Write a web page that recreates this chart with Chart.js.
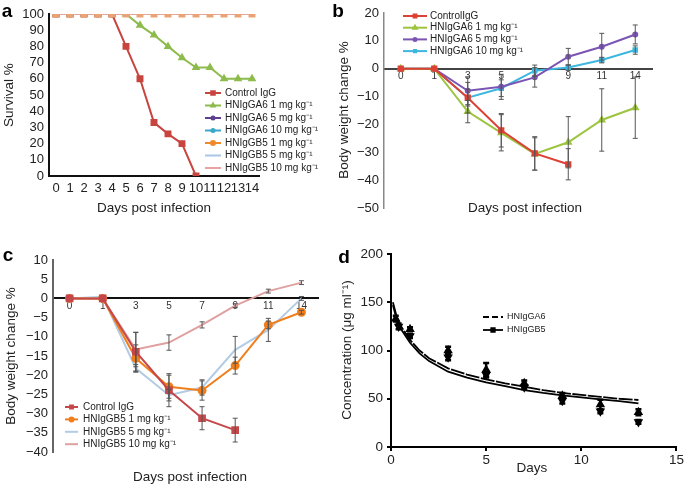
<!DOCTYPE html>
<html lang="en">
<head>
  <meta charset="UTF-8" />
  <title>Survival, body weight and serum concentration</title>
  <script src="https://cdn.jsdelivr.net/npm/chart.js"></script>
  <style>
    body { margin: 0; background: #fff; font-family: 'Liberation Sans', Arial, sans-serif; color: #222; }
    .figure { position: relative; width: 685px; height: 485px; overflow: hidden; }
    .figure canvas { position: absolute; }
    .lbl { position: absolute; white-space: nowrap; line-height: 1; transform: translate(-50%, -50%); }
    .tag { font-weight: bold; font-size: 19px; color: #000; }
    .xt { font-size: 13.5px; }
    .yt { font-size: 13.5px; transform: translate(-50%, -50%) rotate(-90deg); }
  </style>
</head>
<body>
  <div class="figure">
    <canvas id="chartA" width="340" height="240" style="left:0;top:0"></canvas>
    <canvas id="chartB" width="345" height="240" style="left:340px;top:0"></canvas>
    <canvas id="chartC" width="340" height="245" style="left:0;top:240px"></canvas>
    <canvas id="chartD" width="345" height="245" style="left:340px;top:240px"></canvas>

    <!-- panel letters and axis titles -->
    <div class="lbl tag" style="left:7px;top:10px">a</div>
    <div class="lbl tag" style="left:338px;top:10px">b</div>
    <div class="lbl tag" style="left:8px;top:254px">c</div>
    <div class="lbl tag" style="left:344px;top:256px">d</div>

    <div class="lbl yt" style="left:9px;top:95px">Survival %</div>
    <div class="lbl xt" style="left:154px;top:208px">Days post infection</div>
    <div class="lbl yt" style="left:344px;top:110px">Body weight change %</div>
    <div class="lbl xt" style="left:525px;top:208px">Days post infection</div>
    <div class="lbl yt" style="left:11px;top:356px">Body weight change %</div>
    <div class="lbl xt" style="left:190px;top:477px">Days post infection</div>
    <div class="lbl yt" style="left:347px;top:350px">Concentration (μg ml⁻¹)</div>
    <div class="lbl xt" style="left:532px;top:468px">Days</div>
  </div>

  <script>
    // ---- a: survival ----
    const survDays = ['0','1','2','3','4','5','6','7','8','9','10','11','12','13','14'];
    const survCtrl = [100,100,100,100,100,80,60,33,26,20,0,null,null,null,null];
    const survGA6_1 = [100,100,100,100,100,100,93,87,80,73,67,67,60,60,60];
    const survAll100 = [100,100,100,100,100,100,100,100,100,100,100,100,100,100,100];

    // ---- b: body weight, HNIgGA6 ----
    const bwDays = ['0','1','3','5','7','9','11','14'];
    const bCtrl = [0,0,-10.4,-22.1,-30.4,-34.3,null,null];
    const bCtrlErr = [0,0,5.5,6,6,5.6,0,0];
    const bGA6_1 = [0,0,-15.4,-23,-30.6,-26.4,-18.4,-14];
    const bGA6_1Err = [0,0,4,6.5,5.8,9.2,11.2,11];
    const bGA6_5 = [0,0,-7.9,-6.5,-3.1,4.3,7.9,12.3];
    const bGA6_5Err = [0,0,5,4.5,3.5,3,4.8,3.4];
    const bGA6_10 = [0,0,-10.4,-7,-0.7,0.4,3.1,6.7];
    const bGA6_10Err = [0,0,3,3,2,1,1,1.5];

    // ---- c: body weight, HNIgGB5 ----
    const cCtrl = [0,0,-13.9,-23.9,-31.2,-34.3,null,null];
    const cCtrlErr = [0,0,5,4.3,3,3.1,0,0];
    const cGB5_1 = [0,0,-15.6,-23,-24,-17.5,-6.9,-3.6];
    const cGB5_1Err = [0,0,3.5,3,2.5,2.2,1,0.5];
    const cGB5_5 = [0,0.4,-18.2,-25.2,-23.2,-13.4,-8.2,0];
    const cGB5_5Err = [0,0,1,1.5,2,3.5,3,0.5];
    const cGB5_10 = [0,0,-13.3,-11.5,-6.9,-1.9,1.9,4.1];
    const cGB5_10Err = [0,0,4.5,2,0.8,0.5,0.5,0.5];

    // ---- d: serum concentration ----
    const fitDays = [0.1,0.3,0.5,1,1.5,2,3,4,5,6,7,8,9,10,11,12,13];
    const fitGA6 = [150,135,126,111,100,92,81.5,75,70,66,62.5,59,56,54,52,50,48.7];
    const fitGB5 = [147,132,123,108,97,89,78,72,67,63,59,56,53.5,51.5,49.4,47.5,45.3];
    const obsDaysGA6 = [0.25,1,3,5,7,9,11,13];
    const obsGA6 = [133,122,100,80,66,53,44,36];
    const obsGA6Err = [3,2,4,7,3,3,5,3];
    const obsDaysGB5 = [0.4,1,3,5,7,9,11,13];
    const obsGB5 = [125,115,93,75,62,48,37,26];
    const obsGB5Err = [3,2,3,3,2,3,2,2];

    const FONT = "'Liberation Sans', Arial, sans-serif";
    const minus = v => String(v).replace('-', '\u2212');

    // vertical error bars, drawn with the chart's own y scale
    const errorBars = {
      id: 'errorBars',
      afterDatasetsDraw(chart) {
        const ctx = chart.ctx;
        const yScale = chart.scales.y;
        chart.data.datasets.forEach((ds, i) => {
          if (!ds.errors) return;
          const meta = chart.getDatasetMeta(i);
          const cap = ds.errorCap || 2.5;
          ctx.save();
          ctx.strokeStyle = ds.errorColor || '#555';
          ctx.lineWidth = ds.errorWidth || 1;
          meta.data.forEach((pt, j) => {
            const raw = ds.data[j];
            const v = (raw && typeof raw === 'object') ? raw.y : raw;
            const e = ds.errors[j];
            if (v == null || !e) return;
            const top = yScale.getPixelForValue(v + e);
            const bot = yScale.getPixelForValue(v - e);
            ctx.beginPath();
            ctx.moveTo(pt.x, top); ctx.lineTo(pt.x, bot);
            ctx.moveTo(pt.x - cap, top); ctx.lineTo(pt.x + cap, top);
            ctx.moveTo(pt.x - cap, bot); ctx.lineTo(pt.x + cap, bot);
            ctx.stroke();
          });
          ctx.restore();
        });
      }
    };

    // legend drawn inside the plot area
    const keyBox = {
      id: 'keyBox',
      afterDraw(chart, args, opts) {
        if (!opts || opts.x == null) return;
        const ctx = chart.ctx;
        let row = 0;
        chart.data.datasets.forEach(ds => {
          if (ds.inKey === false) return;
          const y = opts.y + row * opts.row;
          const x0 = opts.x, x1 = opts.x + opts.len;
          ctx.save();
          ctx.strokeStyle = ds.borderColor;
          ctx.lineWidth = ds.borderWidth;
          ctx.setLineDash(ds.keyDash || ds.borderDash || []);
          ctx.beginPath(); ctx.moveTo(x0, y); ctx.lineTo(x1, y); ctx.stroke();
          ctx.setLineDash([]);
          if (ds.keyRadius) {
            ctx.fillStyle = ds.pointBackgroundColor || ds.borderColor;
            ctx.strokeStyle = ds.pointBorderColor || ds.borderColor;
            Chart.helpers.drawPoint(ctx, { pointStyle: ds.pointStyle, radius: ds.keyRadius, borderWidth: 1, rotation: 0 }, (x0 + x1) / 2, y);
          }
          ctx.fillStyle = '#222';
          ctx.font = opts.font;
          ctx.textBaseline = 'middle';
          ctx.textAlign = 'left';
          ctx.fillText(ds.label, x1 + opts.gap, y);
          ctx.restore();
          row++;
        });
      }
    };
    Chart.register(errorBars, keyBox);

    function line(label, data, color, extra) {
      return Object.assign({
        label, data,
        borderColor: color,
        backgroundColor: color,
        pointBackgroundColor: color,
        pointBorderColor: color,
        borderWidth: 2,
        pointRadius: 0,
        keyRadius: 0,
        tension: 0,
        spanGaps: false
      }, extra || {});
    }

    function baseOptions(p) {
      return {
        responsive: false,
        animation: false,
        layout: { padding: { left: 0, top: p.top, right: p.right, bottom: p.bottom || 0 } },
        plugins: { legend: { display: false }, tooltip: { enabled: false }, keyBox: p.key },
        scales: {
          x: Object.assign({
            afterFit: s => { s.height = p.xh; }
          }, p.x),
          y: Object.assign({
            afterFit: s => { s.width = p.yw; }
          }, p.y)
        }
      };
    }

    // ---- panel a ----
    new Chart(document.getElementById('chartA'), {
      type: 'line',
      data: {
        labels: survDays,
        datasets: [
          line('Control IgG', survCtrl, '#C8443F', { pointRadius: 3.5, keyRadius: 2.5, pointStyle: 'rect', order: 1 }),
          line('HNIgGA6 1 mg kg⁻¹', survGA6_1, '#8DBB4C', { pointRadius: 3, keyRadius: 2, pointStyle: 'triangle', order: 1 }),
          line('HNIgGA6 5 mg kg⁻¹', survAll100, '#5E3F8F', { keyRadius: 1.5, pointStyle: 'circle', order: 1 }),
          line('HNIgGA6 10 mg kg⁻¹', survAll100, '#3BA7C9', { keyRadius: 1.5, pointStyle: 'circle', order: 1 }),
          line('HNIgGB5 1 mg kg⁻¹', survAll100, '#EE8A2C', { keyRadius: 2, pointStyle: 'circle', order: 1 }),
          line('HNIgGB5 5 mg kg⁻¹', survAll100, '#A9C6E6', { order: 1 }),
          line('HNIgGB5 10 mg kg⁻¹', survAll100, '#E7A3A0', {
            pointRadius: 3.5, pointStyle: 'rect', pointBackgroundColor: '#E9A476', pointBorderColor: '#E9A476', order: 0
          })
        ]
      },
      options: baseOptions({
        top: 14, right: 81, xh: 64, yw: 49,
        key: { x: 205, y: 93, row: 12.5, len: 16, gap: 4, font: '10px ' + FONT },
        x: {
          offset: true,
          grid: { display: false, drawTicks: false },
          border: { display: true, color: '#111', width: 2 },
          ticks: { color: '#222', padding: 5, maxRotation: 0, autoSkip: false, font: { family: FONT, size: 13 } }
        },
        y: {
          min: 0, max: 100,
          grid: { display: false, drawTicks: false },
          border: { display: true, color: '#111', width: 2 },
          ticks: { stepSize: 10, autoSkip: false, color: '#222', padding: 5, font: { family: FONT, size: 13 } }
        }
      })
    });

    // ---- panel b ----
    new Chart(document.getElementById('chartB'), {
      type: 'line',
      data: {
        labels: bwDays,
        datasets: [
          line('ControlIgG', bCtrl, '#DD4035', { pointRadius: 3, keyRadius: 2, pointStyle: 'rect', errors: bCtrlErr }),
          line('HNIgGA6 1 mg kg⁻¹', bGA6_1, '#9CC43E', { pointRadius: 3, keyRadius: 2, pointStyle: 'triangle', errors: bGA6_1Err }),
          line('HNIgGA6 5 mg kg⁻¹', bGA6_5, '#7B55B3', { pointRadius: 2, keyRadius: 1.5, pointStyle: 'circle', errors: bGA6_5Err }),
          line('HNIgGA6 10 mg kg⁻¹', bGA6_10, '#3DB7E0', { pointRadius: 2.5, keyRadius: 1.5, pointStyle: 'rect', errors: bGA6_10Err })
        ]
      },
      options: baseOptions({
        top: 13, right: 33, bottom: 32, xh: 0, yw: 44,
        key: { x: 63, y: 16, row: 11.7, len: 24, gap: 3, font: '10px ' + FONT },
        x: {
          position: { y: 0 },
          offset: true,
          grid: { display: false, drawTicks: false },
          border: { display: true, color: '#444', width: 2 },
          ticks: { color: '#333', padding: 2, maxRotation: 0, autoSkip: false, font: { family: FONT, size: 10 } }
        },
        y: {
          min: -50, max: 20,
          grid: { display: false, drawTicks: false },
          border: { display: true, color: '#888', width: 1.5 },
          ticks: { stepSize: 10, autoSkip: false, color: '#222', padding: 5, font: { family: FONT, size: 13 }, callback: minus }
        }
      })
    });

    // ---- panel c ----
    new Chart(document.getElementById('chartC'), {
      type: 'line',
      data: {
        labels: bwDays,
        datasets: [
          line('Control IgG', cCtrl, '#C4474A', { pointRadius: 4, keyRadius: 2, pointStyle: 'rect', errors: cCtrlErr }),
          line('HNIgGB5 1 mg kg⁻¹', cGB5_1, '#F07E1C', { pointRadius: 3.5, keyRadius: 2, pointStyle: 'circle', errors: cGB5_1Err }),
          line('HNIgGB5 5 mg kg⁻¹', cGB5_5, '#B3CCE4', { errors: cGB5_5Err }),
          line('HNIgGB5 10 mg kg⁻¹', cGB5_10, '#E0A0A0', { errors: cGB5_10Err })
        ]
      },
      options: baseOptions({
        top: 20, right: 22, bottom: 33, xh: 0, yw: 53,
        key: { x: 65, y: 167, row: 12.4, len: 13, gap: 5, font: '10px ' + FONT },
        x: {
          position: { y: 0 },
          offset: true,
          grid: { display: false, drawTicks: false },
          border: { display: true, color: '#111', width: 2 },
          ticks: { color: '#333', padding: 2, maxRotation: 0, autoSkip: false, font: { family: FONT, size: 10 } }
        },
        y: {
          min: -40, max: 10,
          grid: { display: false, drawTicks: false },
          border: { display: true, color: '#666', width: 2 },
          ticks: { stepSize: 5, autoSkip: false, color: '#222', padding: 5, font: { family: FONT, size: 13 }, callback: minus }
        }
      })
    });

    // ---- panel d ----
    const toXY = (xs, ys) => xs.map((x, i) => ({ x, y: ys[i] }));
    new Chart(document.getElementById('chartD'), {
      type: 'scatter',
      data: {
        datasets: [
          line('HNIgGA6', toXY(fitDays, fitGA6), '#000', { showLine: true, borderWidth: 1.8, borderDash: [14, 1.5], keyDash: [6, 3] }),
          line('HNIgGB5', toXY(fitDays, fitGB5), '#000', { showLine: true, borderWidth: 1.8, keyRadius: 2.5, pointStyle: 'rect' }),
          line('HNIgGA6 observed', toXY(obsDaysGA6, obsGA6), '#000', {
            showLine: false, inKey: false, pointRadius: 3.5, pointStyle: 'triangle',
            errors: obsGA6Err, errorColor: '#000', errorWidth: 2.5, errorCap: 3
          }),
          line('HNIgGB5 observed', toXY(obsDaysGB5, obsGB5), '#000', {
            showLine: false, inKey: false, pointRadius: 3.5, pointStyle: 'triangle', rotation: 180,
            errors: obsGB5Err, errorColor: '#000', errorWidth: 2.5, errorCap: 3
          })
        ]
      },
      options: baseOptions({
        top: 14, right: 7, xh: 38, yw: 51,
        key: { x: 143, y: 77, row: 13, len: 20, gap: 4, font: '9px ' + FONT },
        x: {
          type: 'linear', min: 0, max: 15,
          grid: { display: true, drawOnChartArea: false, drawTicks: true, tickLength: 4, color: '#000', lineWidth: 2 },
          border: { display: true, color: '#000', width: 2 },
          ticks: { stepSize: 5, color: '#222', padding: 1, maxRotation: 0, font: { family: FONT, size: 13.5 } }
        },
        y: {
          min: 0, max: 200,
          grid: { display: true, drawOnChartArea: false, drawTicks: true, tickLength: 4, color: '#000', lineWidth: 2 },
          border: { display: true, color: '#000', width: 2 },
          ticks: { stepSize: 50, color: '#222', padding: 4, font: { family: FONT, size: 13.5 } }
        }
      })
    });
  </script>
</body>
</html>
